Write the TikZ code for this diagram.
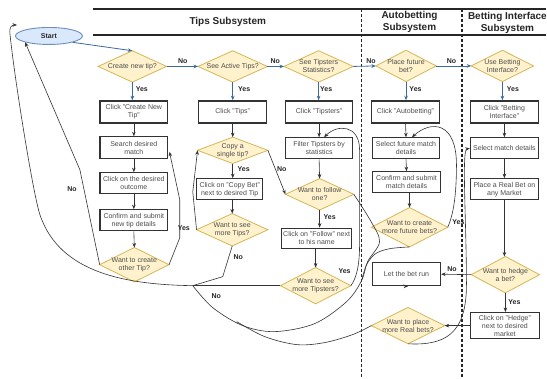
\documentclass[tikz,border=0pt]{standalone}
\usepackage{fontspec}
\setmainfont{Liberation Sans}
\usetikzlibrary{arrows.meta,shapes.geometric,calc}
\pgfdeclarelayer{back}\pgfdeclarelayer{bg}\pgfsetlayers{back,bg,main}
\definecolor{dfill}{HTML}{FFF2CC}
\definecolor{dline}{HTML}{D6B656}
\definecolor{sfill}{HTML}{DAE8FC}
\definecolor{sline}{HTML}{6C8EBF}
\definecolor{bline}{HTML}{3C6A9E}
\definecolor{boxc}{HTML}{333333}
\definecolor{txtc}{HTML}{4D4D4D}
\definecolor{lblc}{HTML}{262626}
\definecolor{linec}{HTML}{333333}
\newcommand\fsz{\fontsize{7}{8}\selectfont}
\begin{document}
\begin{tikzpicture}[x=1pt,y=-1pt,
 box/.style={draw=boxc,line width=1.3pt,fill=white,text=txtc,align=center,font=\fsz,minimum width=68pt,minimum height=22pt,inner sep=1pt},
 dtx/.style={inner sep=0pt,align=center,text=txtc,font=\fsz},
 dmd/.style={draw=dline,fill=dfill,line width=0.8pt,line join=miter},
 startn/.style={ellipse,draw=sline,fill=sfill,line width=0.9pt,minimum width=67pt,minimum height=17pt,inner sep=0pt,font=\bfseries\fsz,text=black!85},
 lbl/.style={font=\bfseries\fsz,text=lblc,inner sep=0pt},
 hdrt/.style={font=\bfseries\fontsize{10}{12}\selectfont,text=black!85,align=center,inner sep=0pt},
 hdr/.style={draw=black!85,line width=1.3pt},
 lane/.style={draw=black!85,line width=1.1pt,dash pattern=on 3pt off 2pt},
 arr/.style={draw=linec,line width=0.6pt,-{Stealth[length=4.5pt,width=3.6pt]}},
 ln/.style={draw=linec,line width=0.6pt},
 barr/.style={draw=bline,line width=0.8pt,-{Stealth[length=4.5pt,width=3.6pt]}},
 ]
\begin{pgfonlayer}{back}
\fill[white] (0,0) rectangle (547,378);
\draw[hdr] (93,9) -- (547,9);
\draw[hdr] (93,35) -- (547,35);
\draw[lane] (362,9) -- (362,378);
\draw[lane] (462.5,9) -- (462.5,378);
\end{pgfonlayer}
\useasboundingbox (0,0) rectangle (547,378);

% headers
\node[hdrt] (htips) at (228,22) {Tips Subsystem};
\node[hdrt] (hauto) at (410,21.5) {Autobetting\\Subsystem};
\node[hdrt] (hbint) at (508,22.5) {Betting Interface\\Subsystem};

% start
\node[startn] (start) at (49,36) {Start};

% row of decisions
\node[dtx,minimum width=68pt,minimum height=31pt] (c1) at (132.5,66.5) {Create new tip?};
\node[dtx,minimum width=69pt,minimum height=31pt] (a1) at (233,66.5) {See Active Tips?};
\node[dtx,minimum width=69pt,minimum height=31pt] (s1) at (319,66.5) {See Tipsters\\Statistics?};
\node[dtx,minimum width=60pt,minimum height=31pt] (p1) at (406.5,66) {Place future\\bet?};
\node[dtx,minimum width=62pt,minimum height=31pt] (u1) at (503,66) {Use Betting\\Interface?};

% row of click boxes
\node[box] (cnt) at (134,112) {Click "Create New\\Tip"};
\node[box] (ct) at (233,112) {Click "Tips"};
\node[box,minimum width=67pt] (cts) at (319.5,112) {Click "Tipsters"};
\node[box] (cab) at (406,112) {Click "Autobetting"};
\node[box] (cbi) at (505,112) {Click "Betting\\Interface"};

% column 1
\node[box] (sdm) at (134,148) {Search desired\\match};
\node[box,minimum height=21pt] (cdo) at (134,183.5) {Click on the desired\\outcome};
\node[box,minimum height=21pt] (csn) at (134,220.5) {Confirm and submit\\new tip details};
\node[dtx,minimum width=69pt,minimum height=34pt] (wco) at (134.5,265) {Want to create\\other Tip?};

% column 2
\node[dtx,minimum width=70pt,minimum height=26pt] (cst) at (233,150.5) {Copy a\\single tip?};
\node[box,minimum width=66pt,minimum height=21pt] (ccb) at (230,189.5) {Click on "Copy Bet"\\next to desired Tip};
\node[dtx,minimum width=71pt,minimum height=32pt] (wst) at (232.5,230) {Want to see\\more Tips?};

% column 3
\node[box,minimum width=67pt,minimum height=21pt] (ftb) at (319.5,148.5) {Filter Tipsters by\\statistics};
\node[dtx,minimum width=68pt,minimum height=31pt] (wfo) at (320,194.5) {Want to follow\\one?};
\node[box,minimum width=70pt,minimum height=20pt] (cfn) at (317,238.5) {Click on "Follow" next\\to his name};
\node[dtx,minimum width=70pt,minimum height=36pt] (wsts) at (316,286) {Want to see\\more Tipsters?};

% column 4
\node[box,minimum width=67pt,minimum height=21pt] (sfm) at (406.5,148.5) {Select future match\\details};
\node[box,minimum height=21pt] (csm) at (407,182.5) {Confirm and submit\\match details};
\node[dtx,minimum width=76pt,minimum height=39pt] (wcf) at (410,227.5) {Want to create\\more future bets?};
\node[box,minimum height=23pt] (lbr) at (407,274.5) {Let the bet run};
\node[dtx,minimum width=73pt,minimum height=36pt] (wpr) at (408.5,326) {Want to place\\more Real bets?};

% column 5
\node[box,minimum height=21pt] (smd) at (505,148.5) {Select match details};
\node[box,minimum height=21pt] (prb) at (505,189.5) {Place a Real Bet on\\any Market};
\node[dtx,minimum width=68pt,minimum height=36pt] (whb) at (506,275) {Want to hedge\\a bet?};
\node[box,minimum width=69pt,minimum height=26pt] (chm) at (505.5,326) {Click on "Hedge"\\next to desired\\market};

% diamond outlines
\begin{pgfonlayer}{bg}
\foreach \n in {c1,a1,s1,p1,u1,wco,cst,wst,wfo,wsts,wcf,wpr,whb}
  \path[dmd] (\n.north) -- (\n.east) -- (\n.south) -- (\n.west) -- cycle;
\end{pgfonlayer}

\coordinate (J) at (193,286);
\coordinate (sIn) at (17,25);

% blue connectors
\draw[barr] (start.-15) -- (c1.north);
\draw[barr] (c1.east) -- (a1.west);
\draw[barr] (a1.east) -- (s1.west);
\draw[barr] (s1.east) -- (p1.west);
\draw[barr] (p1.east) -- (u1.west);
\draw[barr] (c1.south) -- (c1.south |- cnt.north);
\draw[barr] (a1.south) -- (a1.south |- ct.north);
\draw[barr] (s1.south) -- (s1.south |- cts.north);
\draw[barr] (p1.south) -- (p1.south |- cab.north);
\draw[barr] (u1.south) -- (u1.south |- cbi.north);

% column flows
\draw[arr] (cnt.south) -- (sdm.north);
\draw[arr] (sdm.south) -- (cdo.north);
\draw[arr] (cdo.south) -- (csn.north);
\draw[arr] (csn.south) -- (wco.north);
\draw[arr] (ct.south) -- (cst.north);
\draw[arr] (cst.south) -- (cst.south |- ccb.north);
\draw[arr] (wst.north |- ccb.south) -- (wst.north);
\draw[arr] (cts.south) -- (ftb.north);
\draw[arr] (ftb.south) -- (wfo.north);
\draw[arr] (wfo.south) -- (wfo.south |- cfn.north);
\draw[arr] (wsts.north |- cfn.south) -- (wsts.north);
\draw[arr] (cab.south) -- (sfm.north);
\draw[arr] (sfm.south) -- (csm.north);
\draw[arr] (wcf.north |- csm.south) -- (wcf.north);
\draw[arr] (cbi.south) -- (smd.north);
\draw[arr] (smd.south) -- (prb.north);
\draw[arr] (prb.south) -- (prb.south |- whb.north);
\draw[arr] (whb.west) -- (lbr.east);
\draw[arr] (whb.south) -- (whb.south |- chm.north);
\draw[arr] (chm.west) -- (wpr.east);
\draw[arr] (lbr.south) -- (lbr.south -| wpr.north);

% loops and returns
\draw[arr] (wco.east) -- (180,238) -- (180,200) -- ($(sdm.east)+(1,4)$);
\draw[arr] (wco.west) -- (80,170) -- (start.-165);
\draw[arr] (wst.west) -- (193,192) -- (cst.west);
\draw[arr] (cst.east) -- (wfo.west);
\draw[ln] (wst.south) -- (223,277) -- (J);
\draw[ln] (wsts.west) -- (J);
\draw[arr] (J) .. controls (130,285) and (60,275) .. (40,215) .. controls (33,194) and (14,75) .. (10,34) .. controls (9,27) and (12,25) .. (sIn);
\draw[ln] plot[smooth,tension=0.55] coordinates {(wfo.east) (371,221) (380,242) (368,262) (362,281) (347,302) (315,324) (275,332) (243,326) (213,308) (J)};
\draw[ln] plot[smooth,tension=0.55] coordinates {(wcf.south) (390,249) (376,254) (367,265) (362,281)};
\draw[ln] plot[smooth,tension=0.55] coordinates {(wpr.west) (353,335) (325,343) (297,345) (265,337) (237,322)};
\draw[arr] (wsts.east) .. controls (356,280) and (360,268) .. (360,245) -- (360,150) .. controls (360,125) and (338,124) .. ($(ftb.north)+(5,0)$);
\draw[arr] (wcf.east) .. controls (454,215) and (457,195) .. (457,165) .. controls (457,122) and (432,120) .. ($(sfm.north)+(6,0)$);
\draw[arr] (wpr.south) .. controls (445,346) and (467,335) .. (467,285) .. controls (467,220) and (462,150) .. (smd.west);

% labels
\node[lbl] (n1) at (183,61) {No};
\node[lbl] (n2) at (275.5,61) {No};
\node[lbl] (n3) at (371.5,61.5) {No};
\node[lbl] (n4) at (452,61.5) {No};
\node[lbl] (y1) at (142,89) {Yes};
\node[lbl] (y2) at (244.5,89) {Yes};
\node[lbl] (y3) at (326.5,89) {Yes};
\node[lbl] (y4) at (416,89) {Yes};
\node[lbl] (y5) at (513.5,89) {Yes};
\node[lbl] (n5) at (72,189) {No};
\node[lbl] (y6) at (184,228) {Yes};
\node[lbl] (y7) at (244,169) {Yes};
\node[lbl] (n6) at (282,169) {No};
\node[lbl] (n7) at (238.5,257) {No};
\node[lbl] (y8) at (330,217) {Yes};
\node[lbl] (y9) at (345,271) {Yes};
\node[lbl] (n8) at (216.5,296) {No};
\node[lbl] (y10) at (459,222) {Yes};
\node[lbl] (n9) at (452.5,269) {No};
\node[lbl] (y11) at (515,302) {Yes};
\end{tikzpicture}
\end{document}
